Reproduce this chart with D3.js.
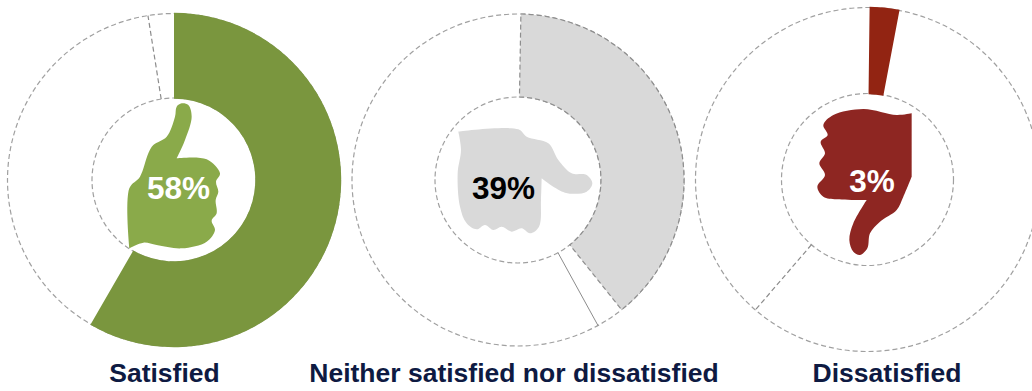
<!DOCTYPE html>
<html><head><meta charset="utf-8">
<script src="https://cdn.jsdelivr.net/npm/d3@7/dist/d3.min.js"></script>
<style>html,body{margin:0;padding:0;background:#fff;overflow:hidden}svg{display:block}</style>
</head><body><svg id="c" width="1032" height="391"></svg>
<script>
const categories = ["Satisfied", "Neither satisfied nor dissatisfied", "Dissatisfied"];
const values = [58, 39, 3];
const valueLabels = ["58%", "39%", "3%"];
const comparison = [97.5, 42, 61.3];
const arcColors = ["#7A963E", "#D9D9D9", "#922412"];
const iconColors = ["#8AAA4A", "#D9D9D9", "#8E2622"];
const labelColors = ["#FFFFFF", "#000000", "#FFFFFF"];

// Layout of each donut
const layout = [
  {cx:174, cy:180, R:166.5, r:82, start:0, endNudge:1.2, text:[178.5,198.5], lx:164.5, icon:[0,0], dashedEdge:false, cmpDash:"5 3", cmpW:1.2},
  {cx:518, cy:180, R:166, r:83, start:1, endNudge:0, text:[503.5,198.5], lx:514, icon:[345,0], dashedEdge:true, cmpDash:null, cmpW:1},
  {cx:867.5, cy:179.5, R:172, r:86, start:0.7, endNudge:-0.8, text:[872,192], lx:887, icon:[690,0], dashedEdge:false, cmpDash:"5 3", cmpW:1.2}
];

// Hand outlines, traced at 3x (a repeated point gives a sharp corner)
const icons = [
 [[388,745],[388,745],[388,565],[420,530],[445,460],[460,435],[500,410],[525,350],[530,320],[545,310],[565,315],[575,350],[555,420],[530,475],[530,475],[620,478],[660,520],[648,545],[655,575],[647,600],[650,640],[635,662],[645,690],[620,725],[545,745],[470,735],[430,728]],
 [[340,395],[340,395],[520,388],[545,410],[610,430],[640,480],[680,520],[725,525],[742,550],[725,575],[660,578],[590,535],[590,535],[588,600],[582,680],[555,700],[530,685],[500,695],[470,680],[445,690],[420,675],[395,688],[365,670],[345,620],[338,520],[348,450]],
 [[665,340],[665,340],[665,530],[665,530],[640,590],[620,630],[570,665],[540,700],[532,745],[510,765],[490,755],[478,720],[490,670],[530,600],[530,600],[440,598],[400,590],[382,560],[405,525],[388,490],[405,460],[392,425],[413,405],[400,375],[430,345],[520,327],[620,345]]
];

const svg = d3.select("#c");
const angle = d3.scaleLinear().domain([0,100]).range([0,2*Math.PI]);
const arc = d3.arc();
const outline = d3.line().curve(d3.curveCatmullRomClosed.alpha(0.5));
const RING = "#A0A0A0";

categories.forEach((name,i)=>{
  const L = layout[i];
  const off = L.start*Math.PI/180;
  const nudge = L.endNudge*Math.PI/180;
  const cover = L.dashedEdge ? 0 : 0.7; // solid arcs hide the ring beneath their edges
  const g = svg.append("g");
  const d = g.append("g").attr("transform",`translate(${L.cx},${L.cy})`);
  [L.R,L.r].forEach(rad=>d.append("circle").attr("r",rad).attr("fill","none")
     .attr("stroke",RING).attr("stroke-width",1.2).attr("stroke-dasharray","5 3"));
  // comparison marker
  const a = angle(comparison[i]);
  d.append("line")
    .attr("x1",L.r*Math.sin(a)).attr("y1",-L.r*Math.cos(a))
    .attr("x2",L.R*Math.sin(a)).attr("y2",-L.R*Math.cos(a))
    .attr("stroke","#8C8C8C").attr("stroke-width",L.cmpW)
    .attr("stroke-dasharray",L.cmpDash);
  // value arc
  const p = d.append("path").attr("d",arc({innerRadius:L.r-cover,outerRadius:L.R+cover,startAngle:off,endAngle:off+angle(values[i])+nudge}))
    .attr("fill",arcColors[i]);
  if(L.dashedEdge) p.attr("stroke","#8E8E8E").attr("stroke-width",1.2).attr("stroke-dasharray","5 3");
  // hand
  g.append("path").attr("fill",iconColors[i])
    .attr("d",outline(icons[i].map(q=>[q[0]/3+L.icon[0],q[1]/3+L.icon[1]])));
  g.append("text").attr("x",L.text[0]).attr("y",L.text[1]).attr("text-anchor","middle")
    .attr("font-family","Liberation Sans").attr("font-weight","bold").attr("font-size",31.5)
    .attr("fill",labelColors[i]).text(valueLabels[i]);
  g.append("text").attr("x",L.lx).attr("y",382).attr("text-anchor","middle")
    .attr("font-family","Liberation Sans").attr("font-weight","bold").attr("font-size",26.5)
    .attr("fill","#0E1A42").text(name);
});
</script></body></html>
